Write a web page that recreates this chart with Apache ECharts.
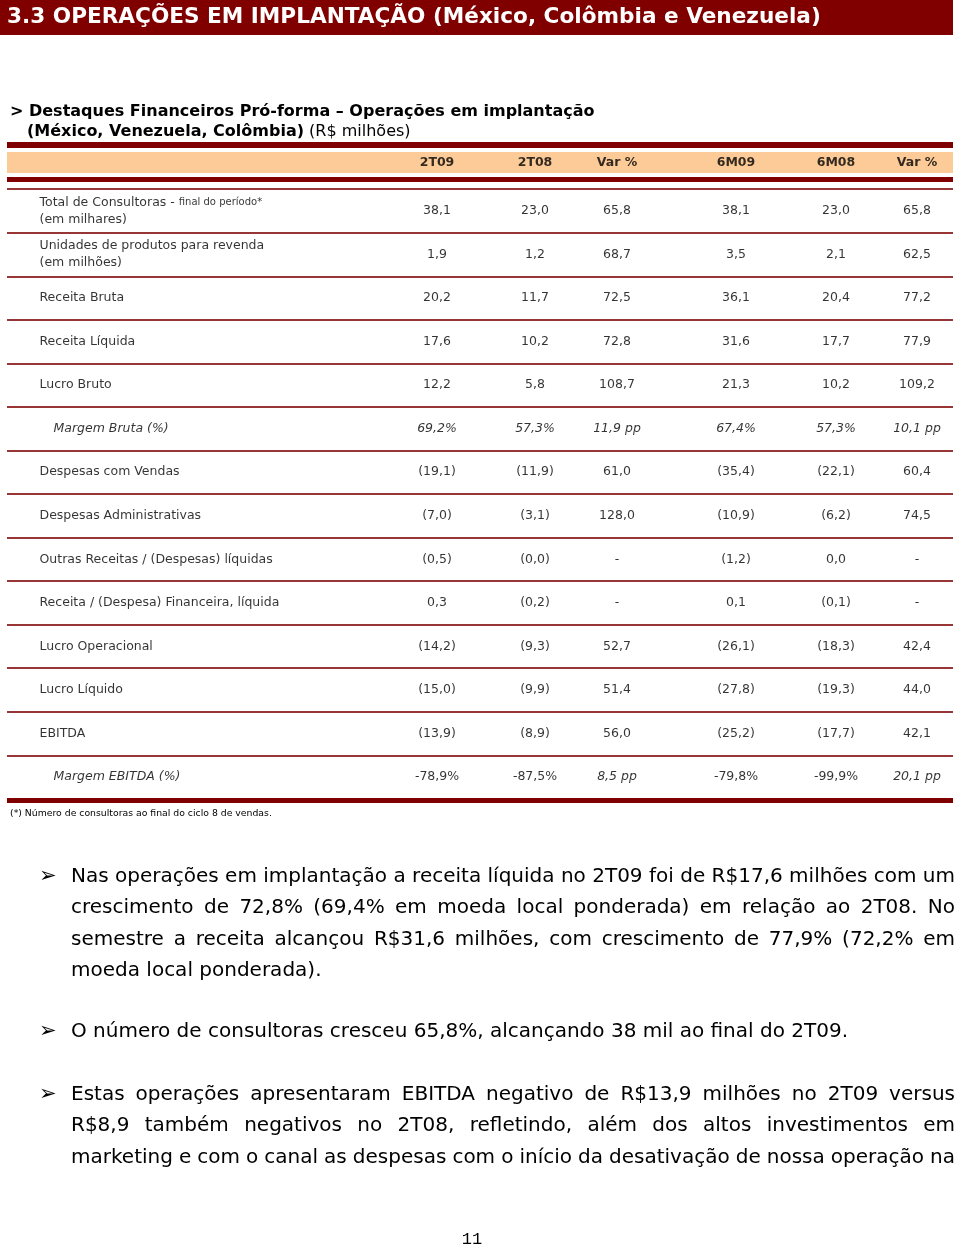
<!DOCTYPE html>
<html>
<head>
<meta charset="utf-8">
<script src="https://cdn.jsdelivr.net/npm/echarts@6/dist/echarts.min.js"></script>
<style>
  html, body { margin: 0; padding: 0; background: #fff; }
  #page { width: 960px; height: 1247px; }
</style>
</head>
<body>
<div id="page"></div>
<script>
// ---- data ----
const columns = ['2T09', '2T08', 'Var %', '6M09', '6M08', 'Var %'];
const rowLabels = [
  'Total de Consultoras - final do período*\n(em milhares)',
  'Unidades de produtos para revenda\n(em milhões)',
  'Receita Bruta',
  'Receita Líquida',
  'Lucro Bruto',
  'Margem Bruta (%)',
  'Despesas com Vendas',
  'Despesas Administrativas',
  'Outras Receitas / (Despesas) líquidas',
  'Receita / (Despesa) Financeira, líquida',
  'Lucro Operacional',
  'Lucro Líquido',
  'EBITDA',
  'Margem EBITDA (%)'
];
// 'num' = R$ / units, 'pct' = margin rows (var in pp)
const rowKinds = ['num', 'num', 'num', 'num', 'num', 'pct', 'num', 'num', 'num', 'num', 'num', 'num', 'num', 'pct'];
const values2T09 = [38.1, 1.9, 20.2, 17.6, 12.2, 69.2, -19.1, -7.0, -0.5, 0.3, -14.2, -15.0, -13.9, -78.9];
const values2T08 = [23.0, 1.2, 11.7, 10.2, 5.8, 57.3, -11.9, -3.1, -0.0, -0.2, -9.3, -9.9, -8.9, -87.5];
const varQuarter = [65.8, 68.7, 72.5, 72.8, 108.7, 11.9, 61.0, 128.0, null, null, 52.7, 51.4, 56.0, 8.5];
const values6M09 = [38.1, 3.5, 36.1, 31.6, 21.3, 67.4, -35.4, -10.9, -1.2, 0.1, -26.1, -27.8, -25.2, -79.8];
const values6M08 = [23.0, 2.1, 20.4, 17.7, 10.2, 57.3, -22.1, -6.2, 0.0, -0.1, -18.3, -19.3, -17.7, -99.9];
const varSemester = [65.8, 62.5, 77.2, 77.9, 109.2, 10.1, 60.4, 74.5, null, null, 42.4, 44.0, 42.1, 20.1];

const titleText = '3.3 OPERAÇÕES EM IMPLANTAÇÃO (México, Colômbia e Venezuela)';
const subtitleLine1 = '> Destaques Financeiros Pró-forma – Operações em implantação';
const subtitleBold2 = '(México, Venezuela, Colômbia)';
const subtitleUnit = ' (R$ milhões)';
const footnote = '(*) Número de consultoras ao final do ciclo 8 de vendas.';
const paragraph1 = [
  'Nas operações em implantação a receita líquida no 2T09 foi de R$17,6 milhões com um',
  'crescimento de 72,8% (69,4% em moeda local ponderada) em relação ao 2T08. No',
  'semestre a receita alcançou R$31,6 milhões, com crescimento de 77,9% (72,2% em',
  'moeda local ponderada).'
];
const paragraph2 = [
  'O número de consultoras cresceu 65,8%, alcançando 38 mil ao final do 2T09.'
];
const paragraph3 = [
  'Estas operações apresentaram EBITDA negativo de R$13,9 milhões no 2T09 versus',
  'R$8,9 também negativos no 2T08, refletindo, além dos altos investimentos em',
  'marketing e com o canal as despesas com o início da desativação de nossa operação na'
];
const pageNumber = '11';

// ---- layout ----
const FONT = '"DejaVu Sans", Verdana, sans-serif';
const DARK = '#800000';
const colX = [437, 535, 617, 736, 836, 917];   // column centres (px)
const tableLeft = 7, tableRight = 953;
const labelX = 39, labelIndentX = 53;

function dec(v) { return Math.abs(v).toFixed(1).replace('.', ','); }
function isNeg(v) { return v < 0 || Object.is(v, -0); }
function fmtCell(v, kind, isVar) {
  if (v === null) return '-';
  if (kind === 'pct') {
    if (isVar) return dec(v) + ' pp';
    return (v < 0 ? '-' : '') + dec(v) + '%';
  }
  return isNeg(v) ? '(' + dec(v) + ')' : dec(v);
}

const tableCols = [values2T09, values2T08, varQuarter, values6M09, values6M08, varSemester];
const isVarCol = [false, false, true, false, false, true];

const cellSeries = tableCols.map((vals, j) => ({
  type: 'scatter',
  xAxisIndex: 0, yAxisIndex: 0,
  symbolSize: 1, silent: true,
  itemStyle: { color: 'transparent' },
  label: { show: true, position: 'inside', color: '#000', textBorderWidth: 0,
           fontFamily: FONT, fontSize: 12.5, formatter: p => p.name },
  data: vals.map((v, i) => {
    const kind = rowKinds[i];
    // margin rows: pp values italic; Margem Bruta fully italic
    const italic = kind === 'pct' && (isVarCol[j] || i === 5);
    return { name: fmtCell(v, kind, isVarCol[j]), value: [colX[j], i + 0.02],
             label: { fontStyle: italic ? 'italic' : 'normal' } };
  })
}));

const labelSeries = {
  type: 'scatter',
  xAxisIndex: 0, yAxisIndex: 0,
  symbolSize: 1, silent: true,
  itemStyle: { color: 'transparent' },
  label: {
    show: true, position: 'right', distance: 0, color: '#000', textBorderWidth: 0,
    formatter: p => p.name.split('\n').map(l => l.indexOf('final do') >= 0
      ? '{a|' + l.replace('final do período*', '') + '}{s|final do período*}'
      : '{a|' + l + '}').join('\n'),
    rich: {
      a: { fontFamily: FONT, fontSize: 12.5, color: '#000', lineHeight: 17 },
      s: { fontFamily: FONT, fontSize: 10, color: '#000', lineHeight: 17 }
    }
  },
  data: rowLabels.map((l, i) => {
    const italic = rowKinds[i] === 'pct';
    return {
      name: l, value: [italic ? labelIndentX : labelX, i + 0.02],
      label: italic ? { rich: { a: { fontFamily: FONT, fontSize: 12.5, fontStyle: 'italic', color: '#000', lineHeight: 17 } } } : {}
    };
  })
};

const headerSeries = {
  type: 'scatter',
  xAxisIndex: 1, yAxisIndex: 1,
  symbolSize: 1, silent: true,
  itemStyle: { color: 'transparent' },
  label: { show: true, position: 'inside', color: '#000', textBorderWidth: 0, fontFamily: FONT,
           fontSize: 12.5, fontWeight: 'bold', formatter: p => p.name },
  data: columns.map((c, j) => ({ name: c, value: [colX[j], 0] }))
};

// ---- text blocks (graphic) ----
const measureCtx = document.createElement('canvas').getContext('2d');
function textW(s, size) {
  measureCtx.font = size + 'px "DejaVu Sans"';
  return measureCtx.measureText(s).width;
}
function txt(text, x, y, size, extra) {
  return {
    type: 'text', silent: true,
    style: Object.assign({
      text: text, x: x, y: y, fill: '#000', fontFamily: FONT, fontSize: size,
      textAlign: 'left', textVerticalAlign: 'middle', align: 'left', verticalAlign: 'middle'
    }, extra || {})
  };
}
const BODY = 20, X0 = 71, X1 = 955, STEP = 31.2;
function paragraph(lines, yStart, justifyLast) {
  const out = [txt('➢', 39, yStart + 0.5, 21)];
  lines.forEach((line, k) => {
    const y = yStart + 1 + k * STEP;
    const justify = k < lines.length - 1 || justifyLast;
    if (!justify) { out.push(txt(line, X0, y, BODY)); return; }
    const words = line.split(' ');
    const total = words.reduce((s, w) => s + textW(w, BODY), 0);
    const gap = (X1 - X0 - total) / (words.length - 1);
    let x = X0;
    words.forEach(w => { out.push(txt(w, x, y, BODY)); x += textW(w, BODY) + gap; });
  });
  return out;
}

const graphics = [
  { type: 'rect', silent: true, shape: { x: 0, y: 0, width: 953, height: 35 }, style: { fill: DARK } },
  txt(titleText, 7, 17.5, 21.6, { fill: '#fff', fontWeight: 'bold' }),
  txt(subtitleLine1, 10, 111.5, 16, { fontWeight: 'bold' }),
  txt('{b|' + subtitleBold2 + '}{n|' + subtitleUnit + '}', 27, 131.5, 16, {
    rich: { b: { fontFamily: FONT, fontSize: 16, fontWeight: 'bold', fill: '#000' },
            n: { fontFamily: FONT, fontSize: 16, fill: '#000' } }
  }),
  txt(footnote, 10, 814, 9.3),
  ...paragraph(paragraph1, 876, false),
  ...paragraph(paragraph2, 1031, false),
  ...paragraph(paragraph3, 1094, true),
  txt(pageNumber, 472, 1239, 17, { fontFamily: '"Liberation Mono", monospace', textAlign: 'center', align: 'center' })
];

const chart = echarts.init(document.getElementById('page'));
chart.setOption({
  animation: false,
  backgroundColor: '#fff',
  grid: [
    { left: tableLeft, right: 960 - tableRight, top: 189.2, height: 609.6 },
    { left: tableLeft, right: 960 - tableRight, top: 152, height: 21, show: true,
      backgroundColor: '#FCCB98', borderWidth: 0 }
  ],
  xAxis: [
    { type: 'value', gridIndex: 0, min: tableLeft, max: tableRight, position: 'bottom', offset: 1,
      axisLine: { show: true, onZero: false, lineStyle: { color: DARK, width: 5, cap: 'butt' } },
      axisTick: { show: false }, axisLabel: { show: false }, splitLine: { show: false } },
    { type: 'value', gridIndex: 1, min: tableLeft, max: tableRight, position: 'top', offset: 7,
      axisLine: { show: true, onZero: false, lineStyle: { color: DARK, width: 6, cap: 'butt' } },
      axisTick: { show: false }, axisLabel: { show: false }, splitLine: { show: false } },
    { type: 'value', gridIndex: 1, min: tableLeft, max: tableRight, position: 'bottom', offset: 6,
      axisLine: { show: true, onZero: false, lineStyle: { color: DARK, width: 5, cap: 'butt' } },
      axisTick: { show: false }, axisLabel: { show: false }, splitLine: { show: false } }
  ],
  yAxis: [
    { type: 'category', gridIndex: 0, inverse: true, data: rowLabels,
      axisLine: { show: false }, axisTick: { show: false }, axisLabel: { show: false },
      splitLine: { show: true, lineStyle: { color: '#973636', width: 2 } } },
    { type: 'category', gridIndex: 1, data: ['header'],
      axisLine: { show: false }, axisTick: { show: false }, axisLabel: { show: false },
      splitLine: { show: false } }
  ],
  series: [labelSeries, headerSeries, ...cellSeries],
  graphic: { elements: graphics }
});
</script>
</body>
</html>
